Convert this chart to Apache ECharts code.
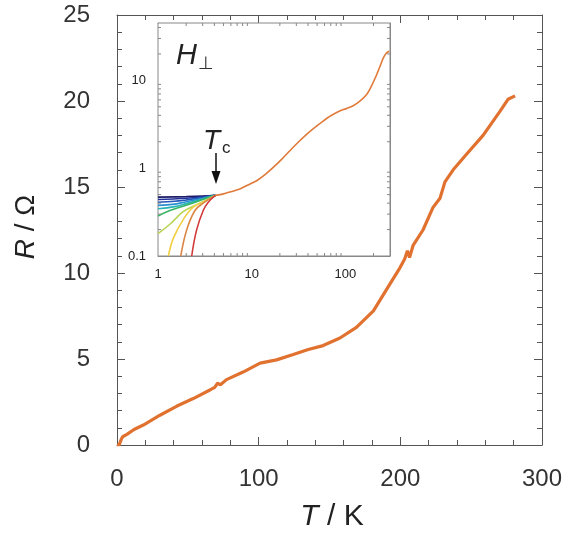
<!DOCTYPE html>
<html>
<head>
<meta charset="utf-8">
<script src="https://cdn.jsdelivr.net/npm/echarts@6/dist/echarts.min.js"></script>
<style>
  html, body { margin: 0; padding: 0; background: #fff; }
  #chart { width: 580px; height: 537px; }
</style>
</head>
<body>
<div id="chart"></div>
<script>
// main panel: R(T) in zero field
const mainT = [0, 1.5, 2.3, 3, 4, 7, 12, 18.6, 30.3, 42, 53.8, 65.6, 69, 71, 73, 77.3, 89, 101, 112.6, 124.4, 135, 145.5, 157.4, 169, 181, 192.6, 199.7, 203, 205, 206.5, 209, 216, 223, 228, 231.5, 237.3, 246.7, 258.4, 270.3, 276, 281]
const mainR = [0, 0, 0.1, 0.33, 0.48, 0.62, 0.9, 1.16, 1.73, 2.25, 2.7, 3.2, 3.35, 3.6, 3.5, 3.8, 4.24, 4.76, 4.95, 5.26, 5.55, 5.78, 6.22, 6.84, 7.8, 9.35, 10.3, 10.8, 11.3, 10.9, 11.6, 12.5, 13.8, 14.35, 15.3, 16.0, 16.9, 18.0, 19.4, 20.1, 20.3]

// inset: same curve on log-log axes, above Tc
const insetT = [4.1, 5, 6, 7.5, 9, 11.3, 14, 17, 21, 25.6, 31, 38.6, 47, 58, 70, 87, 103.5, 120, 143, 169, 190, 216, 235, 254, 275, 295]
const insetR = [0.49, 0.51, 0.54, 0.58, 0.64, 0.72, 0.85, 1.02, 1.27, 1.58, 1.95, 2.43, 2.9, 3.44, 3.95, 4.47, 4.79, 5.1, 5.8, 6.9, 8.6, 11.6, 14.5, 17.9, 20.5, 21.5]

// inset: curves below Tc for increasing perpendicular field (red = lowest)
const fRed = [[2.29, 0.1], [2.58, 0.197], [3.04, 0.33], [3.44, 0.41], [4.1, 0.49]]
const fOrange = [[1.75, 0.1], [2.02, 0.197], [2.48, 0.33], [3.04, 0.4], [4.1, 0.49]]
const fYellow = [[1.29, 0.1], [1.46, 0.16], [1.86, 0.26], [2.38, 0.36], [3.17, 0.42], [4.1, 0.49]]
const fLime = [[1, 0.18], [1.34, 0.23], [1.86, 0.32], [2.8, 0.4], [4.1, 0.49]]
const fGreen = [[1, 0.285], [1.34, 0.33], [2.2, 0.39], [3, 0.44], [4.1, 0.49]]
const fTeal = [[1, 0.345], [1.5, 0.365], [2, 0.395], [3, 0.445], [4.1, 0.49]]
const fSky = [[1, 0.377], [1.5, 0.39], [2, 0.415], [3, 0.455], [4.1, 0.49]]
const fBlue = [[1, 0.41], [1.5, 0.42], [2, 0.435], [3, 0.462], [4.1, 0.49]]
const fDarkBlue = [[1, 0.44], [2, 0.455], [3, 0.472], [4.1, 0.49]]
const fNavy = [[1, 0.468], [2, 0.474], [3, 0.481], [4.1, 0.49]]

const fieldCurves = [fNavy, fDarkBlue, fBlue, fSky, fTeal, fGreen, fLime, fYellow, fOrange, fRed]
const fieldColors = ['#1c1d66', '#23309a', '#2457b8', '#2b8fd2', '#25b2b5', '#39b462', '#b6d34e', '#f0cf45', '#db8645', '#d23a3a']

// log minor ticks of the inset
const insetXMinor = [2, 3, 4, 5, 6, 7, 8, 9, 20, 30, 40, 50, 60, 70, 80, 90, 200]
const insetYMinor = [0.2, 0.3, 0.4, 0.5, 0.6, 0.7, 0.8, 0.9, 2, 3, 4, 5, 6, 7, 8, 9, 20, 30, 40]

const FONT = '"Liberation Sans", Arial, Helvetica, sans-serif'
const AXIS = '#555'
const INSET = '#888'

const chart = echarts.init(document.getElementById('chart'))

const linAxis = (extra) => Object.assign({
	gridIndex: 0,
	type: 'value',
	axisLine: { show: true, onZero: false, lineStyle: { color: AXIS, width: 1 } },
	axisTick: { show: true, inside: true, length: 8, lineStyle: { color: AXIS } },
	minorTick: { show: true, splitNumber: 5, length: 5, lineStyle: { color: AXIS } },
	splitLine: { show: false }
}, extra)

const isDecade = (v) => Math.abs(Math.log10(v) - Math.round(Math.log10(v))) < 1e-6

const logAxis = (extra) => Object.assign({
	gridIndex: 1,
	type: 'log',
	logBase: 10,
	axisLine: { show: true, onZero: false, lineStyle: { color: INSET, width: 1 } },
	axisTick: { show: true, inside: true, length: 5, lineStyle: { color: INSET } },
	splitLine: { show: false },
	axisLabel: {
		fontSize: 13, color: '#222', fontFamily: FONT, margin: 12,
		formatter: (v) => (isDecade(v) ? String(+v.toPrecision(3)) : '')
	}
}, extra)

const tickStyle = { stroke: INSET, lineWidth: 1 }

function xMinorTicks(params, api) {
	const cs = params.coordSys
	const px = api.coord([api.value(0), 1])[0]
	return {
		type: 'group',
		children: [
			{ type: 'line', shape: { x1: px, y1: cs.y + cs.height, x2: px, y2: cs.y + cs.height - 3 }, style: tickStyle },
			{ type: 'line', shape: { x1: px, y1: cs.y, x2: px, y2: cs.y + 3 }, style: tickStyle }
		]
	}
}

function yMinorTicks(params, api) {
	const cs = params.coordSys
	const py = api.coord([1, api.value(1)])[1]
	return {
		type: 'group',
		children: [
			{ type: 'line', shape: { x1: cs.x, y1: py, x2: cs.x + 3, y2: py }, style: tickStyle },
			{ type: 'line', shape: { x1: cs.x + cs.width, y1: py, x2: cs.x + cs.width - 3, y2: py }, style: tickStyle }
		]
	}
}

const fieldSeries = fieldCurves.map((c, i) => ({
	type: 'line',
	xAxisIndex: 2,
	yAxisIndex: 2,
	data: c,
	smooth: 0.4,
	showSymbol: false,
	lineStyle: { color: fieldColors[i], width: 1.6 },
	z: 3,
	silent: true
}))

const option = {
	animation: false,
	backgroundColor: '#fff',
	grid: [
		{ left: 117, top: 15, width: 425, height: 430, show: false },
		{ left: 158, top: 23, width: 232, height: 233, show: true, backgroundColor: '#fff', borderColor: INSET, borderWidth: 1, z: 1 }
	],
	xAxis: [
		linAxis({ min: 0, max: 300, interval: 100, position: 'bottom',
			axisLabel: { fontSize: 24, color: '#333', fontFamily: FONT, margin: 22 } }),
		linAxis({ min: 0, max: 300, interval: 100, position: 'top', axisLabel: { show: false } }),
		logAxis({ min: 1, max: 300, position: 'bottom' }),
		logAxis({ min: 1, max: 300, position: 'top', axisLabel: { show: false } })
	],
	yAxis: [
		linAxis({ min: 0, max: 25, interval: 5, position: 'left',
			axisLabel: { fontSize: 24, color: '#333', fontFamily: FONT, margin: 27 } }),
		linAxis({ min: 0, max: 25, interval: 5, position: 'right', axisLabel: { show: false } }),
		logAxis({ min: 0.1, max: 45, position: 'left' }),
		logAxis({ min: 0.1, max: 45, position: 'right', axisLabel: { show: false } })
	],
	series: [
		{
			type: 'line',
			xAxisIndex: 0,
			yAxisIndex: 0,
			data: mainT.map((t, i) => [t, mainR[i]]),
			showSymbol: false,
			lineStyle: { color: '#e0712f', width: 3.2 },
			z: 2
		},
		...fieldSeries,
		{
			type: 'line',
			xAxisIndex: 2,
			yAxisIndex: 2,
			data: insetT.map((t, i) => [t, insetR[i]]),
			smooth: 0.3,
			showSymbol: false,
			lineStyle: { color: '#e07a3a', width: 1.6 },
			z: 4
		},
		{
			type: 'custom',
			xAxisIndex: 2,
			yAxisIndex: 2,
			data: insetXMinor.map((v) => [v, 1]),
			encode: { x: 0, y: 1 },
			renderItem: xMinorTicks,
			silent: true,
			z: 5
		},
		{
			type: 'custom',
			xAxisIndex: 2,
			yAxisIndex: 2,
			data: insetYMinor.map((v) => [1, v]),
			encode: { x: 0, y: 1 },
			renderItem: yMinorTicks,
			silent: true,
			z: 5
		}
	],
	graphic: [
		{
			type: 'text', x: 26, y: 227, rotation: Math.PI / 2, z: 10,
			style: {
				text: '{i|R} / Ω', fontSize: 28, fontFamily: FONT, fill: '#222',
				align: 'center', verticalAlign: 'middle',
				rich: { i: { fontStyle: 'italic', fontSize: 28, fontFamily: FONT, fill: '#222' } }
			}
		},
		{
			type: 'text', x: 332, y: 517, z: 10,
			style: {
				text: '{i|T} / K', fontSize: 30, fontFamily: FONT, fill: '#222',
				align: 'center', verticalAlign: 'middle',
				rich: { i: { fontStyle: 'italic', fontSize: 30, fontFamily: FONT, fill: '#222' } }
			}
		},
		// H⊥ label in the inset
		{ type: 'text', x: 176, y: 41, z: 10, style: { text: 'H', fontSize: 29, fontStyle: 'italic', fontFamily: FONT, fill: '#222' } },
		{ type: 'text', x: 198, y: 55, z: 10, style: { text: '⊥', fontSize: 18, fontFamily: '"DejaVu Sans", sans-serif', fill: '#333' } },
		// Tc with arrow
		{ type: 'text', x: 203, y: 127, z: 10, style: { text: 'T', fontSize: 28, fontStyle: 'italic', fontFamily: FONT, fill: '#222' } },
		{ type: 'text', x: 222, y: 140, z: 10, style: { text: 'c', fontSize: 17, fontFamily: FONT, fill: '#222' } },
		{ type: 'line', z: 10, shape: { x1: 216, y1: 153, x2: 216, y2: 173 }, style: { stroke: '#111', lineWidth: 1.5 } },
		{ type: 'polygon', z: 10, shape: { points: [[211.5, 171], [220.5, 171], [216, 184]] }, style: { fill: '#111' } }
	]
}

chart.setOption(option)
</script>
</body>
</html>
